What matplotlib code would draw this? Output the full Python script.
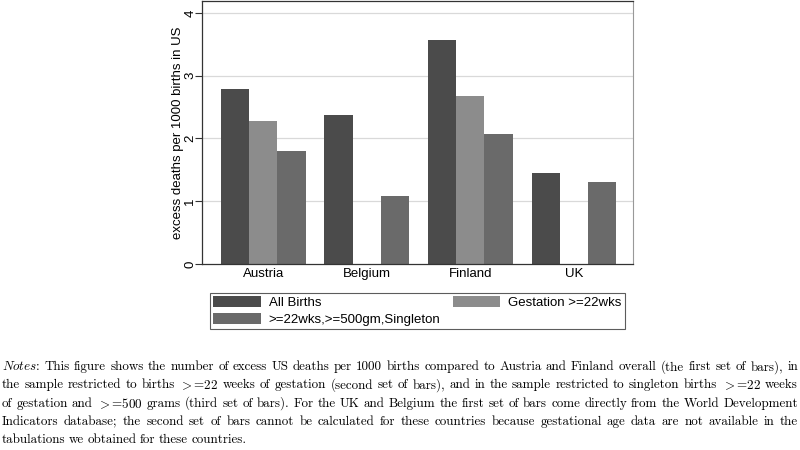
import numpy as np
import matplotlib.pyplot as plt
from matplotlib.patches import Patch

countries = ["Austria", "Belgium", "Finland", "UK"]
all_births = [2.79, 2.38, 3.57, 1.45]
gest_22 = [2.27, np.nan, 2.68, np.nan]
singleton = [1.80, 1.08, 2.07, 1.30]
series_names = ["All Births", "Gestation >=22wks", ">=22wks,>=500gm,Singleton"]
colors = ["#4b4b4b", "#8c8c8c", "#6a6a6a"]

notes_lines = [
    r"$\mathit{Notes}$: This figure shows the number of excess US deaths per 1000 births compared to Austria and Finland overall (the first set of bars), in",
    r"the sample restricted to births $>$=22 weeks of gestation (second set of bars), and in the sample restricted to singleton births $>$=22 weeks",
    r"of gestation and $>$=500 grams (third set of bars). For the UK and Belgium the first set of bars come directly from the World Development",
    r"Indicators database; the second set of bars cannot be calculated for these countries because gestational age data are not available in the",
    r"tabulations we obtained for these countries.",
]

plt.rcParams["font.family"] = ["Liberation Sans", "DejaVu Sans"]
plt.rcParams["mathtext.fontset"] = "cm"

fig = plt.figure(figsize=(8, 4.5), dpi=100)
ax = fig.add_axes([202 / 800, 1 - 264 / 450, 431 / 800, 264 / 450 - 0.002])

x = np.arange(len(countries))
w = 0.273
for k, vals in enumerate([all_births, gest_22, singleton]):
    ax.bar(x + (k - 1) * w, vals, width=w, color=colors[k], linewidth=0, zorder=2)

ax.set_xlim(-0.59, 3.57)
ax.set_ylim(0, 4.19)
ax.set_yticks([0, 1, 2, 3, 4])
ax.set_yticklabels(["0", "1", "2", "3", "4"], rotation=90, va="center", fontsize=9.5)
ax.set_xticks(x)
ax.set_xticklabels(countries, fontsize=9.5)
ax.tick_params(axis="x", length=0, pad=3)
ax.tick_params(axis="y", length=5, width=0.8, color="#333333", pad=-1)
for yv in [1, 2, 3, 4]:
    ax.axhline(yv, color="#d9d9d9", linewidth=0.9, zorder=1)
for s in ["left", "bottom", "top"]:
    ax.spines[s].set_color("#333333")
    ax.spines[s].set_linewidth(0.9)
ax.spines["right"].set_color("#999999")
ax.set_ylabel("excess deaths per 1000 births in US", fontsize=9.5, labelpad=0)

handles = [Patch(facecolor=c, edgecolor="none") for c in colors]
order = [0, 2, 1]
leg = fig.legend([handles[i] for i in order], [series_names[i] for i in order],
                 ncol=2, loc="lower left",
                 bbox_to_anchor=(210 / 800, 1 - 329 / 450, 415 / 800, 41 / 450),
                 mode="expand", fontsize=9.5, frameon=True, fancybox=False,
                 handlelength=3.6, handleheight=0.9, handletextpad=0.6,
                 borderpad=0.25, labelspacing=0.25, borderaxespad=0,
                 columnspacing=1.0)
leg.get_frame().set_edgecolor("#333333")
leg.get_frame().set_linewidth(0.8)

# notes, justified by hand
renderer = fig.canvas.get_renderer()
left, right = 2 / 800, 798 / 800
y0 = 1 - 367 / 450
dy = 18.3 / 450
for i, line in enumerate(notes_lines):
    words = line.split(" ")
    y = y0 - i * dy
    texts = [fig.text(0, y, wd, fontsize=9.4, family="cmr10", va="center", ha="left")
             for wd in words]
    widths = [t.get_window_extent(renderer).width / 800 for t in texts]
    if i < len(notes_lines) - 1:
        gap = (right - left - sum(widths)) / (len(words) - 1)
    else:
        gap = 3.4 / 800
    xp = left
    for t, wdt in zip(texts, widths):
        t.set_x(xp)
        xp += wdt + gap

fig.savefig("out.png", dpi=100)
